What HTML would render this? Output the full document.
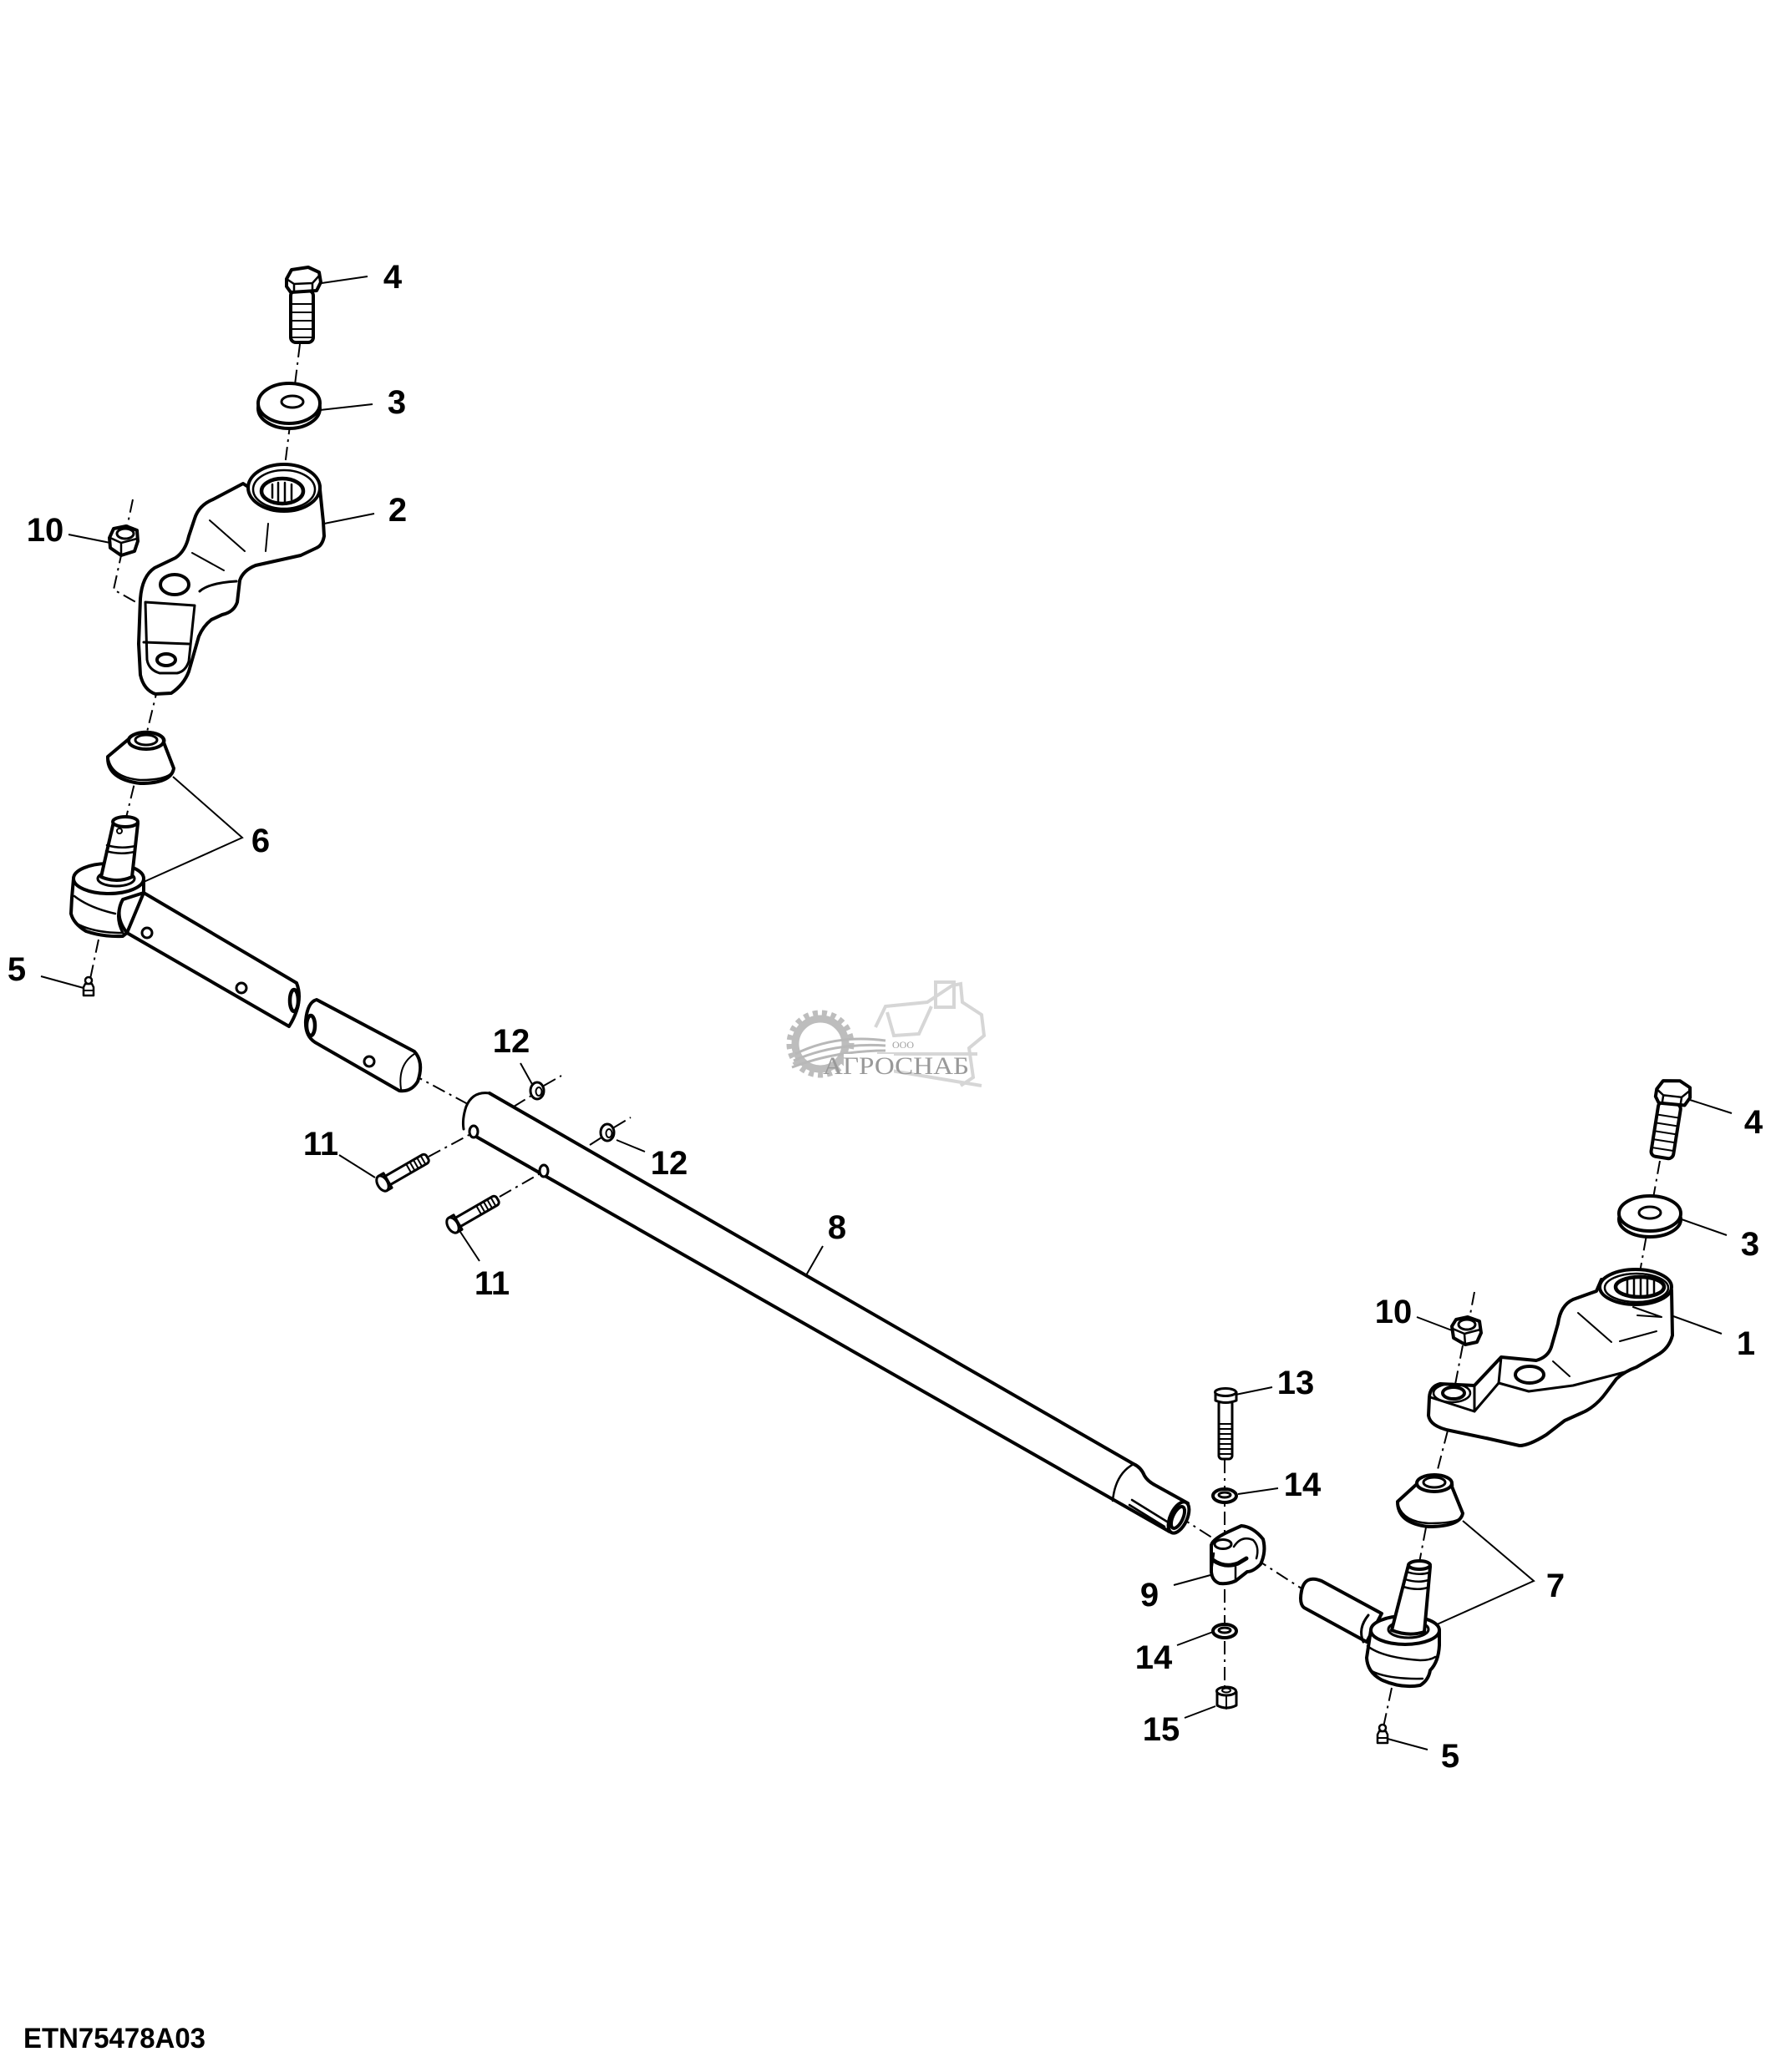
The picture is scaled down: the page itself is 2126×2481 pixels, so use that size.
<!DOCTYPE html>
<html><head><meta charset="utf-8"><style>
html,body{margin:0;padding:0;background:#fff;}
svg{display:block}
.lb{font-family:"Liberation Sans",Arial,sans-serif;font-weight:bold;font-size:40px;fill:#000;text-anchor:middle}
</style></head><body>
<svg width="2126" height="2481" viewBox="0 0 2126 2481" xmlns="http://www.w3.org/2000/svg">
<rect width="2126" height="2481" fill="#fff"/>

<!-- watermark -->
<g>
  <g fill="none" stroke="#d6d6d6" stroke-width="4">
    <path d="M1048,1230 L1060,1205 L1110,1200 L1140,1180 L1150,1178 L1152,1200 L1175,1215 L1178,1240 L1160,1255 L1165,1290 L1150,1300"/>
    <path d="M1062,1212 L1070,1240 L1100,1238 L1115,1205"/>
    <rect x="1120" y="1176" width="22" height="30"/>
    <path d="M1050,1262 L1170,1262 M1055,1280 L1175,1300"/>
  </g>
  <circle cx="982" cy="1250" r="30" fill="none" stroke="#bdbdbd" stroke-width="9"/>
  <circle cx="982" cy="1250" r="37" fill="none" stroke="#bdbdbd" stroke-width="7" stroke-dasharray="6 5"/>
  <path d="M952,1262 Q1000,1238 1060,1246 M950,1270 Q1000,1248 1060,1252 M948,1278 Q1000,1258 1060,1258" stroke="#b8b8b8" stroke-width="3" fill="none"/>
  <rect x="1010" y="1262" width="60" height="30" fill="#fff"/>
  <text x="1081" y="1255" font-family="'Liberation Serif',serif" font-size="12" fill="#a0a0a0" text-anchor="middle">ООО</text>
  <text x="985" y="1286" font-family="'Liberation Serif',serif" font-size="30" fill="#999" textLength="175" lengthAdjust="spacingAndGlyphs">АГРОСНАБ</text>
</g>

<!-- center (dash-dot) lines -->
<g stroke="#000" stroke-width="2" fill="none" stroke-dasharray="16 6 3 6">
  <path d="M359,412 L334,615"/>
  <path d="M197,790 L150,983"/>
  <path d="M159,598 L145,665 L136,706 L207,746 L199,790"/>
  <path d="M118,1125 L108,1172"/>
  <path d="M491,1285 L560,1322"/>
  <path d="M513,1385 L567,1356"/>
  <path d="M598,1433 L652,1402"/>
  <path d="M615,1325 L636,1312 M651,1300 L672,1288"/>
  <path d="M706,1371 L720,1362 M735,1350 L755,1338"/>
  <path d="M1987,1390 L1960,1540"/>
  <path d="M1765,1547 L1759,1579 M1751,1611 L1740,1668"/>
  <path d="M1733,1713 L1717,1775 M1707,1829 L1699,1871"/>
  <path d="M1666,2021 L1656,2068"/>
  <path d="M1410,1815 L1457,1845"/>
  <path d="M1502,1866 L1558,1902"/>
  <path d="M1466,1748 L1466,2020"/>
</g>

<g stroke="#000" stroke-width="4" fill="#fff" stroke-linejoin="round" stroke-linecap="round">

  <!-- LEFT bolt 4 -->
  <g transform="translate(362,334)">
    <rect x="-14" y="14" width="27" height="62" rx="6"/>
    <g stroke-width="2"><path d="M-13,30 H13 M-13,40 H13 M-13,50 H13 M-13,60 H13 M-13,70 H13"/></g>
    <path d="M-19,0 L-13,-11 L7,-14 L20,-8 L22,4 L17,14 L-14,16 L-19,9 Z"/>
    <path d="M-19,0 L-10,6 L12,5 L21,-5 M-10,6 L-10,16 M12,5 L12,15" fill="none" stroke-width="2.5"/>
  </g>
  <!-- LEFT washer 3 -->
  <ellipse cx="346" cy="489" rx="37" ry="24"/>
  <ellipse cx="346" cy="483" rx="37" ry="24"/>
  <ellipse cx="350" cy="481" rx="13" ry="7" stroke-width="3"/>

  <!-- LEFT arm 2 -->
  <path d="M297,583 A43 28 0 0 1 383,586 L387,625 L388,642 Q386,653 379,656 L360,665 L306,677 Q291,683 287,695 L284,721 Q280,733 266,736 L253,742 Q243,750 238,762 L226,804 Q220,820 205,830 L186,831 Q172,826 168,808 L166,771 L168,717 Q170,690 185,680 L210,668 Q222,660 226,642 L233,621 Q238,605 255,598 L291,579 Z"/>
  <path d="M174,721 L233,725 L226,792 Q222,804 212,806 L191,806 Q178,802 176,790 Z" fill="none" stroke-width="3"/>
  <path d="M172,769 L226,771" fill="none" stroke-width="3"/>
  <path d="M239,708 Q250,698 283,696" fill="none" stroke-width="3"/>
  <ellipse cx="209" cy="700" rx="17" ry="12"/>
  <ellipse cx="199" cy="790" rx="11" ry="7"/>
  <g stroke-width="2" fill="none"><path d="M251,623 L293,660 M321,627 L318,660 M230,662 L268,683"/></g>
  <ellipse cx="340" cy="584" rx="43" ry="28"/>
  <ellipse cx="340" cy="586" rx="37" ry="23" fill="none" stroke-width="2.5"/>
  <ellipse cx="338" cy="588" rx="25" ry="15" stroke-width="4.5"/>
  <path d="M326,580 L326,596 M333,578 L333,601 M341,578 L341,601 M349,580 L349,598" stroke-width="2.5" fill="none"/>

  <!-- LEFT nut 10 -->
  <path d="M131,644 L136,633 L151,630 L164,635 L165,648 L161,660 L145,665 L132,656 Z"/>
  <path d="M132,644 L145,650 L164,645 M145,650 L145,665" fill="none" stroke-width="2.5"/>
  <ellipse cx="150" cy="639" rx="10" ry="6" stroke-width="3"/>

  <!-- LEFT cone 6 -->
  <path d="M154,885 A21 10 0 0 1 196,889 L208,920 Q205,938 168,938 Q128,933 129,906 Z"/>
  <path d="M130,910 Q135,931 168,934 Q200,934 207,924" fill="none" stroke-width="2.5"/>
  <ellipse cx="175" cy="887" rx="21" ry="10"/>
  <ellipse cx="175" cy="886" rx="13" ry="6" stroke-width="3"/>

  <!-- LEFT tie rod end 6 : tube -->
  <path d="M172,1069 L355,1177 Q364,1200 346,1229 L152,1117 Z"/>
  <ellipse cx="352" cy="1198" rx="5" ry="13" stroke-width="4.5"/>
  <circle cx="176" cy="1117" r="6" stroke-width="3"/>
  <circle cx="289" cy="1183" r="6" stroke-width="3"/>
  <!-- housing -->
  <path d="M88,1052 L86,1075 L85,1094 Q88,1106 103,1115 Q123,1122 147,1121 L152,1117 Q136,1097 147,1077 L172,1069 L172,1052 Z"/>
  <path d="M89,1073 Q107,1087 138,1094" fill="none" stroke-width="2.5"/>
  <path d="M92,1106 Q112,1117 147,1117" fill="none" stroke-width="2.5"/>
  <path d="M147,1077 Q136,1097 147,1117" fill="none" stroke-width="3"/>
  <ellipse cx="130" cy="1052" rx="42" ry="18"/>
  <ellipse cx="139" cy="1052" rx="22" ry="9" stroke-width="3"/>
  <path d="M136,984 L121,1050 Q140,1058 158,1050 L165,986 Z"/>
  <path d="M128,1012 Q144,1017 162,1013 M127,1019 Q143,1024 161,1020" fill="none" stroke-width="2.5"/>
  <ellipse cx="150" cy="984" rx="15" ry="6"/>
  <circle cx="143" cy="995" r="3" stroke-width="2"/>
  <!-- grease fitting left -->
  <g transform="translate(106,1182)">
    <path d="M-6,10 L-6,0 L-4,-4 L4,-4 L6,0 L6,10 Z" stroke-width="2.5"/>
    <circle cx="0" cy="-8" r="4" stroke-width="2.5"/>
    <path d="M-6,4 H6" stroke-width="2"/>
  </g>

  <!-- sleeve -->
  <path d="M379,1197 L496,1259 Q508,1272 500,1295 Q492,1308 478,1306 L377,1248 Q365,1240 366,1222 Q368,1200 379,1197 Z"/>
  <path d="M496,1262 Q476,1275 480,1304" fill="none" stroke-width="2"/>
  <ellipse cx="372" cy="1228" rx="5" ry="12" stroke-width="4.5"/>
  <circle cx="442" cy="1271" r="6" stroke-width="3"/>

  <!-- main tube 8 -->
  <path d="M586,1309 L1357,1753 Q1366,1757 1370,1767 Q1374,1774 1384,1779 L1422,1800 L1400,1834 L570,1361 Q553,1345 558,1325 Q566,1306 586,1309 Z" stroke="none"/>
  <path d="M586,1309 L1357,1753 Q1366,1757 1370,1767 Q1374,1774 1384,1779 L1422,1800" fill="none"/>
  <path d="M570,1361 L1400,1834" fill="none"/>
  <path d="M586,1309 Q566,1306 558,1325 Q553,1340 555,1352" fill="none" stroke-width="3"/>
  <path d="M1357,1753 Q1335,1765 1332,1797" fill="none" stroke-width="2.5"/>
  <path d="M1355,1796 L1397,1822 M1352,1802 L1394,1828" fill="none" stroke-width="2.5"/>
  <ellipse cx="1411" cy="1817" rx="10" ry="20" transform="rotate(25 1411 1817)"/>
  <ellipse cx="1410" cy="1817" rx="6" ry="14" transform="rotate(25 1410 1817)" stroke-width="4"/>
  <ellipse cx="567" cy="1355" rx="5" ry="7" stroke-width="3"/>
  <ellipse cx="651" cy="1402" rx="5" ry="7" stroke-width="3"/>

  <!-- clips 12 -->
  <ellipse cx="643" cy="1306" rx="8" ry="10" stroke-width="3"/>
  <ellipse cx="645" cy="1307" rx="3.5" ry="5" stroke-width="2"/>
  <ellipse cx="727" cy="1356" rx="8" ry="10" stroke-width="3"/>
  <ellipse cx="729" cy="1357" rx="3.5" ry="5" stroke-width="2"/>

  <!-- bolts 11 -->
  <g transform="translate(458,1417) rotate(-30)">
    <rect x="5" y="-6" width="57" height="12" rx="4" stroke-width="3"/>
    <path d="M36,-6 V6 M41,-6 V6 M46,-6 V6 M51,-6 V6 M56,-6 V6" stroke-width="2"/>
    <rect x="0" y="-10" width="7" height="20" stroke-width="3"/>
    <ellipse cx="0" cy="0" rx="6" ry="10" stroke-width="3"/>
  </g>
  <g transform="translate(542,1467) rotate(-30)">
    <rect x="5" y="-6" width="57" height="12" rx="4" stroke-width="3"/>
    <path d="M36,-6 V6 M41,-6 V6 M46,-6 V6 M51,-6 V6 M56,-6 V6" stroke-width="2"/>
    <rect x="0" y="-10" width="7" height="20" stroke-width="3"/>
    <ellipse cx="0" cy="0" rx="6" ry="10" stroke-width="3"/>
  </g>

  <!-- RIGHT bolt 4 -->
  <g transform="translate(2002,1307) rotate(9)">
    <rect x="-14" y="14" width="27" height="66" rx="6"/>
    <g stroke-width="2"><path d="M-13,30 H13 M-13,40 H13 M-13,50 H13 M-13,60 H13 M-13,70 H13"/></g>
    <path d="M-19,0 L-13,-11 L7,-14 L20,-8 L22,4 L17,14 L-14,16 L-19,9 Z"/>
    <path d="M-19,0 L-10,6 L12,5 L21,-5 M-10,6 L-10,16 M12,5 L12,15" fill="none" stroke-width="2.5"/>
  </g>
  <!-- RIGHT washer 3 -->
  <ellipse cx="1975" cy="1460" rx="37" ry="21"/>
  <ellipse cx="1975" cy="1453" rx="37" ry="21"/>
  <ellipse cx="1975" cy="1452" rx="13" ry="7" stroke-width="3"/>

  <!-- RIGHT arm 1 -->
  <path d="M1917,1532 L1911,1546 L1883,1556 Q1868,1563 1865,1585 L1857,1613 Q1853,1625 1839,1629 L1797,1625 L1765,1659 L1724,1657 Q1712,1660 1711,1673 L1710,1695 Q1712,1708 1736,1713 L1779,1722 L1819,1731 Q1830,1731 1851,1718 L1873,1701 L1893,1692 Q1910,1685 1923,1667 L1935,1651 Q1945,1642 1959,1637 L1983,1623 Q1998,1615 2002,1599 L2001,1545 Z"/>
  <path d="M1765,1659 L1765,1690 M1797,1625 L1794,1656 M1765,1690 L1794,1656 M1712,1673 L1765,1690" fill="none" stroke-width="3"/>
  <path d="M1794,1656 L1830,1666 L1883,1659 L1945,1643" fill="none" stroke-width="3"/>
  <ellipse cx="1738" cy="1668" rx="22" ry="11" fill="none" stroke-width="2.5"/>
  <ellipse cx="1740" cy="1668" rx="13" ry="7"/>
  <ellipse cx="1831" cy="1646" rx="17" ry="10"/>
  <g stroke-width="2" fill="none"><path d="M1889,1572 L1929,1607 M1939,1606 L1983,1594 M1859,1630 L1879,1648 M1955,1565 L1989,1577 L1960,1575"/></g>
  <ellipse cx="1958" cy="1541" rx="43" ry="21"/>
  <ellipse cx="1959" cy="1542" rx="38" ry="17" fill="none" stroke-width="2.5"/>
  <ellipse cx="1963" cy="1541" rx="29" ry="12" stroke-width="4.5"/>
  <path d="M1948,1533 L1948,1549 M1956,1531 L1956,1552 M1964,1531 L1964,1552 M1972,1531 L1972,1552 M1980,1534 L1980,1549" stroke-width="2.5" fill="none"/>

  <!-- RIGHT nut 10 -->
  <path d="M1738,1588 L1743,1580 L1757,1577 L1771,1582 L1773,1596 L1768,1607 L1754,1610 L1740,1602 Z"/>
  <path d="M1739,1591 L1753,1597 L1772,1592 M1753,1597 L1754,1610" fill="none" stroke-width="2.5"/>
  <ellipse cx="1756" cy="1586" rx="10" ry="6" stroke-width="3"/>

  <!-- RIGHT cone 7 -->
  <path d="M1696,1777 A21 10 0 0 1 1738,1780 L1751,1812 Q1748,1828 1710,1828 Q1673,1824 1673,1798 Z"/>
  <path d="M1674,1803 Q1680,1822 1710,1824 Q1745,1824 1750,1816" fill="none" stroke-width="2.5"/>
  <ellipse cx="1717" cy="1776" rx="21" ry="10"/>
  <ellipse cx="1717" cy="1775" rx="13" ry="6" stroke-width="3"/>

  <!-- RIGHT tie rod end 7 -->
  <path d="M1654,1932 L1582,1893 Q1562,1885 1558,1905 Q1555,1920 1561,1925 L1636,1966 Z"/>
  <path d="M1638,1934 Q1625,1950 1632,1966" fill="none" stroke-width="3"/>
  <path d="M1641,1952 L1636,1985 Q1637,2003 1655,2012 Q1678,2022 1700,2018 Q1710,2012 1712,2000 Q1722,1990 1723,1970 L1723,1952 Z"/>
  <path d="M1637,1971 Q1655,1985 1700,1988 Q1712,1988 1718,1984" fill="none" stroke-width="2.5"/>
  <path d="M1640,2000 Q1660,2011 1703,2010" fill="none" stroke-width="2.5"/>
  <ellipse cx="1682" cy="1952" rx="41" ry="17"/>
  <ellipse cx="1686" cy="1951" rx="24" ry="10" stroke-width="3"/>
  <path d="M1686,1874 L1666,1952 Q1686,1960 1705,1954 L1712,1876 Z"/>
  <path d="M1684,1882 Q1698,1887 1711,1883 M1682,1891 Q1697,1896 1710,1892 M1680,1900 Q1696,1905 1709,1901" fill="none" stroke-width="2.5"/>
  <ellipse cx="1699" cy="1874" rx="13" ry="5"/>
  <!-- grease fitting right -->
  <g transform="translate(1655,2077)">
    <path d="M-6,10 L-6,0 L-4,-4 L4,-4 L6,0 L6,10 Z" stroke-width="2.5"/>
    <circle cx="0" cy="-8" r="4" stroke-width="2.5"/>
    <path d="M-6,4 H6" stroke-width="2"/>
  </g>

  <!-- bolt 13 -->
  <rect x="1459" y="1677" width="16" height="70" rx="4" stroke-width="3"/>
  <path d="M1459,1705 H1475 M1459,1711 H1475 M1459,1717 H1475 M1459,1723 H1475 M1459,1729 H1475 M1459,1735 H1475 M1459,1741 H1475" stroke-width="2" fill="none"/>
  <path d="M1455,1667 L1455,1677 Q1467,1682 1480,1677 L1480,1667 Z" stroke-width="3"/>
  <ellipse cx="1467" cy="1667" rx="12.5" ry="4.5" stroke-width="3"/>

  <!-- washers 14 -->
  <ellipse cx="1466" cy="1791" rx="14" ry="8" stroke-width="4"/>
  <ellipse cx="1466" cy="1790" rx="7" ry="3" stroke-width="3"/>
  <ellipse cx="1466" cy="1953" rx="14" ry="8" stroke-width="4"/>
  <ellipse cx="1466" cy="1952" rx="7" ry="3" stroke-width="3"/>

  <!-- clamp 9 -->
  <path d="M1450,1850 Q1452,1842 1475,1832 L1486,1827 Q1500,1828 1512,1843 Q1516,1858 1509,1873 Q1500,1882 1493,1882 L1479,1893 Q1470,1897 1460,1896 Q1451,1893 1450,1882 Z"/>
  <ellipse cx="1464" cy="1849" rx="10" ry="5.5" stroke-width="3"/>
  <path d="M1452,1868 Q1466,1878 1482,1872 L1492,1866" fill="none" stroke-width="5"/>
  <path d="M1477,1852 Q1486,1838 1500,1844 Q1508,1852 1504,1866" fill="none" stroke-width="2.5"/>
  <path d="M1453,1860 L1450,1882 M1479,1876 L1479,1893" fill="none" stroke-width="2.5"/>

  <!-- nut 15 -->
  <path d="M1457,2026 L1457,2042 Q1468,2048 1480,2042 L1480,2026 Z" stroke-width="3"/>
  <path d="M1468,2030 L1468,2046" stroke-width="2" fill="none"/>
  <ellipse cx="1468" cy="2025" rx="11.5" ry="5" stroke-width="3"/>
  <ellipse cx="1468" cy="2024" rx="5" ry="2.5" stroke-width="2"/>
</g>

<!-- leader lines -->
<g stroke="#000" stroke-width="2" fill="none">
  <path d="M385,339 L440,331"/>
  <path d="M383,491 L446,484"/>
  <path d="M388,627 L448,615"/>
  <path d="M82,640 L132,650"/>
  <path d="M207,930 L290,1003 L172,1056"/>
  <path d="M49,1169 L100,1183"/>
  <path d="M623,1273 L638,1300"/>
  <path d="M406,1383 L449,1410"/>
  <path d="M738,1365 L772,1379"/>
  <path d="M551,1475 L574,1510"/>
  <path d="M985,1492 L965,1527"/>
  <path d="M2023,1317 L2073,1333"/>
  <path d="M2013,1460 L2067,1479"/>
  <path d="M2003,1576 L2061,1597"/>
  <path d="M1696,1577 L1738,1593"/>
  <path d="M1479,1670 L1523,1661"/>
  <path d="M1482,1789 L1530,1782"/>
  <path d="M1405,1898 L1449,1886"/>
  <path d="M1409,1970 L1452,1954"/>
  <path d="M1418,2057 L1455,2043"/>
  <path d="M1661,2082 L1709,2095"/>
  <path d="M1751,1821 L1836,1893 L1718,1946"/>
</g>

<!-- labels -->
<g class="lb">
  <text x="470" y="345">4</text>
  <text x="475" y="495">3</text>
  <text x="476" y="624">2</text>
  <text x="54" y="648">10</text>
  <text x="312" y="1020">6</text>
  <text x="20" y="1174">5</text>
  <text x="612" y="1260">12</text>
  <text x="384" y="1383">11</text>
  <text x="801" y="1406">12</text>
  <text x="589" y="1550">11</text>
  <text x="1002" y="1483">8</text>
  <text x="2099" y="1357">4</text>
  <text x="2095" y="1503">3</text>
  <text x="1668" y="1584">10</text>
  <text x="2090" y="1622">1</text>
  <text x="1551" y="1669">13</text>
  <text x="1559" y="1791">14</text>
  <text x="1862" y="1912">7</text>
  <text x="1376" y="1923">9</text>
  <text x="1381" y="1998">14</text>
  <text x="1390" y="2084">15</text>
  <text x="1736" y="2116">5</text>
</g>
<text x="28" y="2452" font-family="'Liberation Sans',Arial,sans-serif" font-weight="bold" font-size="34" textLength="218" lengthAdjust="spacingAndGlyphs">ETN75478A03</text>
</svg>
</body></html>
